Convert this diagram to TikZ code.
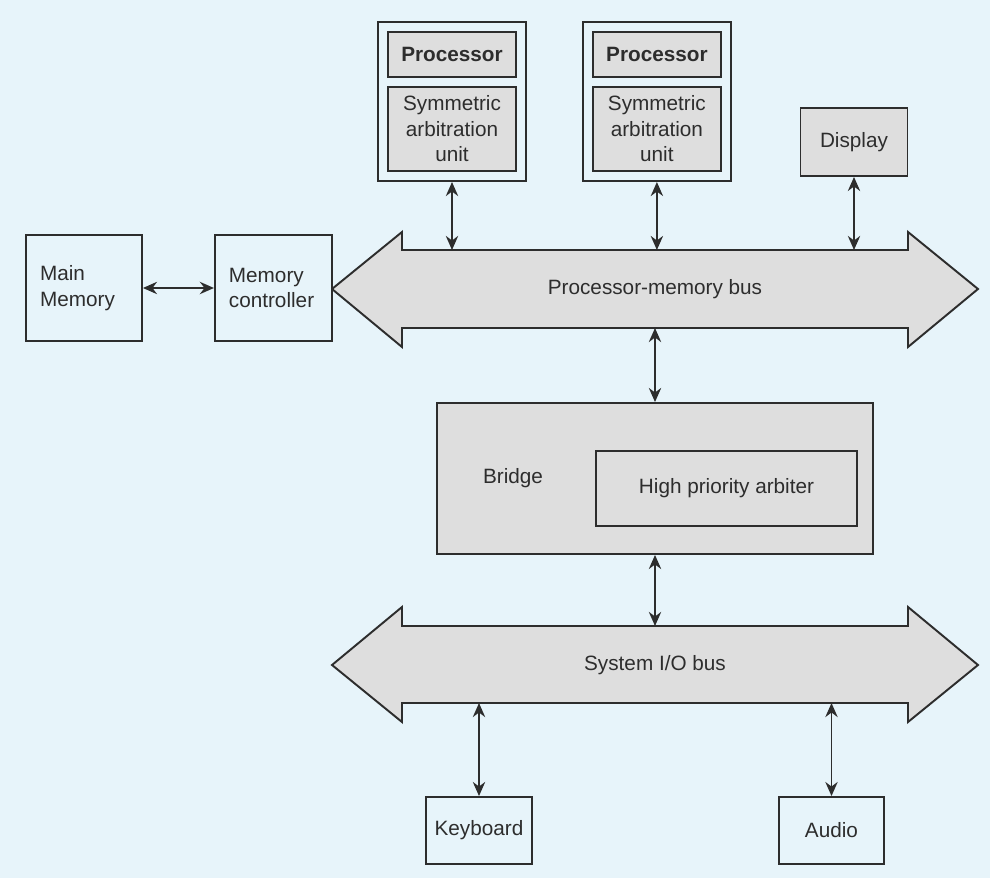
\documentclass[tikz,border=0pt]{standalone}
\usepackage{fontspec}
\setmainfont{Liberation Sans}
\usetikzlibrary{arrows.meta,positioning,fit}

\definecolor{paper}{RGB}{231,244,250}
\definecolor{boxgray}{RGB}{222,222,222}
\definecolor{ink}{RGB}{45,45,45}

\tikzset{
	txt/.style={font=\fontsize{11.8}{14.6}\selectfont, text=ink},
	unit/.style={txt, draw=ink, line width=1.1pt, fill=boxgray, inner sep=0pt, align=center},
	plainbox/.style={unit, fill=paper, inner xsep=0.28cm, align=left},
	cpu/.style={unit, minimum width=2.56cm, minimum height=0.9cm, font=\fontsize{11.8}{14.6}\selectfont\bfseries},
	sau/.style={unit, minimum width=2.56cm, minimum height=1.68cm},
	board/.style={draw=ink, line width=1.3pt, inner sep=0.18cm},
	link/.style={draw=ink, line width=1.1pt, {Stealth[length=8pt,width=7pt]}-{Stealth[length=8pt,width=7pt]}},
	bus/.style={draw=ink, line width=1.1pt, fill=boxgray, line join=miter},
}

\begin{document}
\begin{tikzpicture}[x=0.02cm, y=-0.02cm]
	\fill[paper] (0,0) rectangle (990,878);
	\useasboundingbox (0,0) rectangle (990,878);
	
	% the two buses
	\draw[bus] (332,289) -- (402,232) -- (402,250) -- (908,250) -- (908,232) -- (978,289)
		-- (908,347) -- (908,328) -- (402,328) -- (402,347) -- cycle;
	\node[txt, inner sep=0pt] (pmbus) at (655,289) {Processor-memory bus};
	\draw[bus] (332,665) -- (402,607) -- (402,626) -- (908,626) -- (908,607) -- (978,665)
		-- (908,722) -- (908,703) -- (402,703) -- (402,722) -- cycle;
	\node[txt, inner sep=0pt] (iobus) at (655,665) {System I/O bus};
	
	% processors
	\node[cpu] (cpu1) at (452,54.5) {Processor};
	\node[sau, below=0.16cm of cpu1] (sau1) {Symmetric\\arbitration\\unit};
	\node[board, fit=(cpu1)(sau1)] (board1) {};
	\node[cpu, right=1.5cm of cpu1] (cpu2) {Processor};
	\node[sau, below=0.16cm of cpu2] (sau2) {Symmetric\\arbitration\\unit};
	\node[board, fit=(cpu2)(sau2)] (board2) {};
	\node[unit, minimum width=2.14cm, minimum height=1.36cm] (display) at (854,142) {Display};
	
	% memory side
	\node[plainbox, text width=1.76cm, minimum height=2.12cm] (mainmem) at (84,288) {Main\\Memory};
	\node[plainbox, text width=1.78cm, minimum height=2.12cm, right=1.42cm of mainmem] (memctrl) {Memory\\controller};
	
	% bridge
	\node[unit, minimum width=8.72cm, minimum height=3.02cm] (bridge) at (655,478.5) {};
	\node[txt, inner sep=0pt] (bridgelbl) at (513,478) {Bridge};
	\node[unit, minimum width=5.22cm, minimum height=1.5cm] (arbiter) at (726.5,488.5) {High priority arbiter};
	
	% devices
	\node[plainbox, align=center, inner xsep=0pt, minimum width=2.12cm, minimum height=1.34cm] (keyboard) at (479,830.5) {Keyboard};
	\node[plainbox, align=center, inner xsep=0pt, minimum width=2.1cm, minimum height=1.34cm] (audio) at (831.5,830.5) {Audio};
	
	% bus taps
	\coordinate (pm1) at (board1.south |- 0,250);
	\coordinate (pm2) at (board2.south |- 0,250);
	\coordinate (pm3) at (display.south |- 0,250);
	\coordinate (pm4) at (bridge.north |- 0,328);
	\coordinate (io1) at (bridge.south |- 0,626);
	\coordinate (io2) at (keyboard.north |- 0,703);
	\coordinate (io3) at (audio.north |- 0,703);
	
	\draw[link] (mainmem) -- (memctrl);
	\draw[link] (board1) -- (pm1);
	\draw[link] (board2) -- (pm2);
	\draw[link] (display) -- (pm3);
	\draw[link] (pm4) -- (bridge);
	\draw[link] (bridge) -- (io1);
	\draw[link] (io2) -- (keyboard);
	\draw[link] (io3) -- (audio);
\end{tikzpicture}
\end{document}
